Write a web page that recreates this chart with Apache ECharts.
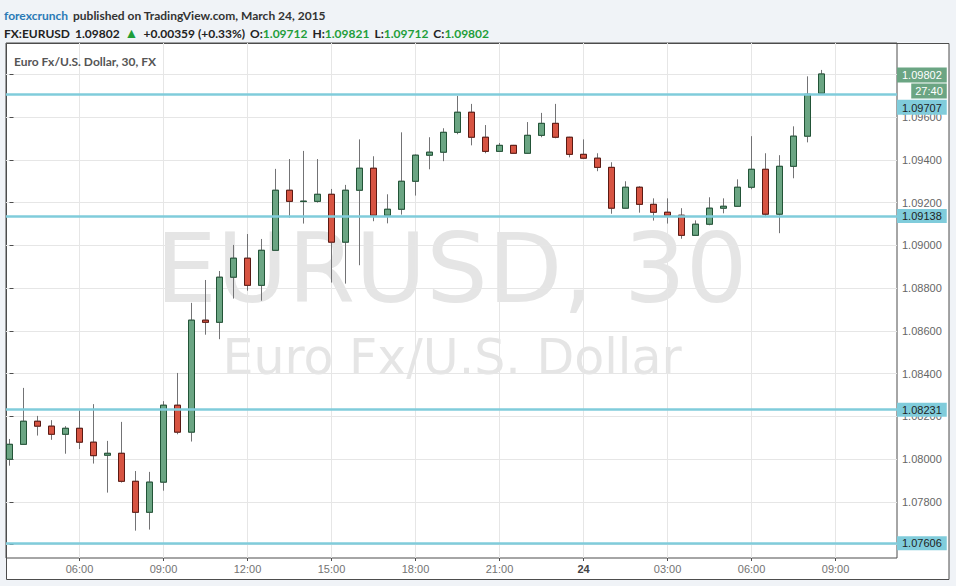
<!DOCTYPE html>
<html><head><meta charset="utf-8">
<script src="https://cdn.jsdelivr.net/npm/echarts@6/dist/echarts.min.js"></script>
<style>html,body{margin:0;padding:0;background:#f0f3f7;}#c{width:956px;height:586px;}</style>
</head><body><div id="c"></div>
<script>
// ---- data (EUR/USD 30-min candles, 23 Mar 03:30 -> 24 Mar 08:30) ----
const opens = [1.07999,1.08069,1.08177,1.08154,1.08116,1.08144,1.08079,1.08018,1.08027,1.07896,
  1.07751,1.07892,1.08252,1.08126,1.08650,1.08640,1.08851,1.08940,1.08813,1.08977,
  1.09258,1.09205,1.09206,1.09239,1.09015,1.09258,1.09361,1.09141,1.09169,1.09300,
  1.09422,1.09436,1.09529,1.09623,1.09506,1.09440,1.09468,1.09431,1.09515,1.09571,
  1.09506,1.09426,1.09408,1.09365,1.09174,1.09272,1.09192,1.09155,1.09141,1.09047,
  1.09099,1.09174,1.09183,1.09272,1.09356,1.09146,1.09370,1.09511,1.09712];
const closes = [1.08069,1.08177,1.08154,1.08116,1.08144,1.08079,1.08016,1.08027,1.07896,1.07751,
  1.07892,1.08252,1.08126,1.08650,1.08640,1.08851,1.08940,1.08813,1.08977,1.09258,
  1.09206,1.09207,1.09239,1.09015,1.09258,1.09361,1.09141,1.09169,1.09300,1.09422,
  1.09436,1.09529,1.09623,1.09506,1.09440,1.09468,1.09431,1.09515,1.09571,1.09506,
  1.09426,1.09408,1.09365,1.09174,1.09272,1.09192,1.09155,1.09141,1.09047,1.09099,
  1.09174,1.09183,1.09272,1.09356,1.09146,1.09370,1.09511,1.09707,1.09802];
const lows = [1.07969,1.08069,1.08110,1.08090,1.08025,1.08047,1.07979,1.07843,1.07890,1.07665,
  1.07670,1.07852,1.08116,1.08082,1.08582,1.08561,1.08751,1.08788,1.08741,1.08977,
  1.09130,1.09102,1.09200,1.08826,1.08821,1.08907,1.09113,1.09103,1.09144,1.09233,
  1.09356,1.09394,1.09520,1.09468,1.09431,1.09440,1.09429,1.09429,1.09506,1.09501,
  1.09412,1.09405,1.09347,1.09148,1.09172,1.09153,1.09116,1.09102,1.09031,1.09045,
  1.09094,1.09150,1.09181,1.09263,1.09132,1.09057,1.09314,1.09482,1.09712];
const highs = [1.08094,1.08333,1.08202,1.08182,1.08154,1.08228,1.08257,1.08085,1.08174,1.07944,
  1.07940,1.08271,1.08403,1.08731,1.08838,1.08880,1.09002,1.09053,1.09030,1.09358,
  1.09404,1.09442,1.09404,1.09264,1.09283,1.09496,1.09417,1.09239,1.09529,1.09426,
  1.09506,1.09548,1.09700,1.09662,1.09563,1.09479,1.09470,1.09577,1.09620,1.09662,
  1.09508,1.09496,1.09431,1.09389,1.09300,1.09277,1.09220,1.09220,1.09174,1.09117,
  1.09225,1.09220,1.09309,1.09511,1.09431,1.09422,1.09557,1.09791,1.09821];
const xTickIndex = [5,11,17,23,29,35,41,47,53,59];
const xTickLabels = ['06:00','09:00','12:00','15:00','18:00','21:00','24','03:00','06:00','09:00'];
const yTickValues = [1.076,1.078,1.080,1.082,1.084,1.086,1.088,1.090,1.092,1.094,1.096,1.098];
const levelValues = [1.09707,1.09138,1.08231,1.07606];
const lastPrice = 1.09802;
const countdown = '27:40';
const changeText = '+0.00359 (+0.33%)';

// ---- chart ----
const chart = echarts.init(document.getElementById('c'), null, {renderer:'svg', width:956, height:586});
const idx = opens.map((_, i) => i);
const candleData = idx.map(i => [i, opens[i], closes[i], lows[i], highs[i]]);
const bodyData = idx.map(i => [i, opens[i], closes[i], Math.min(opens[i], closes[i]), Math.max(opens[i], closes[i])]);
const n = opens.length - 1;
const fmt = v => Number(v).toFixed(5);
const FONT = 'Liberation Sans, Arial, sans-serif';
const HF = 'Lato, "Open Sans", sans-serif';

const tagRich = {
  s: {lineHeight: 26, fontSize: 1, height: 26},
  v: {backgroundColor:'#80ccdb', color:'#1e1e1e', fontSize:11, fontFamily:FONT, lineHeight:15, height:12, padding:[2,5,1,5]}
};
const lastRich = {
  s: {lineHeight: 18, fontSize: 1, height: 18},
  v: {backgroundColor:'#6ba583', color:'#ffffff', fontSize:11, fontFamily:FONT, lineHeight:15, height:12, padding:[2,5,1,5]},
  g: {lineHeight: 1, fontSize: 1, height: 1},
  t: {backgroundColor:'#6ba583', color:'#ffffff', fontSize:11, fontFamily:FONT, lineHeight:15, height:12, padding:[2,4,1,4], align:'right'}
};

const option = {
  backgroundColor: '#f0f3f7',
  animation: false,
  textStyle: {fontFamily: FONT},
  title: [
    {left:4, top:6, padding:0,
     text:'{b|forexcrunch} {n|published on TradingView.com, March 24, 2015}',
     textStyle:{rich:{b:{fontFamily:HF, fontWeight:'bold', fontSize:12, color:'#2a7ab6'}, n:{fontFamily:HF, fontSize:12, color:'#333333'}}}},
    {left:4, top:24, padding:0,
     text:'{k|FX:EURUSD} {n|' + fmt(closes[n]) + '} {g|▲} {n|' + changeText + '} {k|O:}{v|' + fmt(opens[n]) + '} {k|H:}{v|' + fmt(highs[n]) + '} {k|L:}{v|' + fmt(lows[n]) + '} {k|C:}{v|' + fmt(closes[n]) + '}',
     textStyle:{rich:{k:{fontFamily:HF, fontWeight:'bold', fontSize:12, color:'#222'}, n:{fontFamily:HF, fontSize:12, color:'#222'}, g:{fontSize:14, color:'#1f9e3a'}, v:{fontFamily:HF, fontSize:12, color:'#1f9e3a'}}}},
    {left:14, top:55, padding:0, text:'Euro Fx/U.S. Dollar, 30, FX',
     textStyle:{fontFamily:HF, fontWeight:'bold', fontSize:12, color:'#555555'}}
  ],
  graphic: [
    {type:'rect', z:-100, silent:true, shape:{x:6.5, y:43.5, width:942.5, height:536}, style:{fill:'#ffffff', stroke:'#4d4d4d', lineWidth:1}},
    {type:'text', z:-50, silent:true, x:451.5, y:268, style:{text:'EURUSD, 30', font:'97px "DejaVu Sans"', fill:'#e5e5e5', align:'center', verticalAlign:'middle'}},
    {type:'text', z:-50, silent:true, x:452, y:357, style:{text:'Euro Fx/U.S. Dollar', font:'49px "DejaVu Sans"', fill:'#e5e5e5', align:'center', verticalAlign:'middle'}}
  ],
  grid: {left:6, top:43, right:59, bottom:28, show:true, borderColor:'#4d4d4d', borderWidth:1, backgroundColor:'transparent'},
  xAxis: {
    type:'value', min:-0.25, max:63.39,
    axisLine:{show:false},
    axisTick:{show:true, customValues:xTickIndex, length:3, lineStyle:{color:'#4d4d4d'}},
    axisLabel:{customValues:xTickIndex, color:'#737373', fontSize:11, margin:5,
      formatter: v => { const k = xTickIndex.indexOf(v); const t = k < 0 ? '' : xTickLabels[k]; return t === '24' ? '{b|24}' : t; },
      rich:{b:{fontWeight:'bold', color:'#444', fontSize:11}}},
    splitLine:{show:true, lineStyle:{color:'#e6e6e6', width:1}}
  },
  yAxis: {
    type:'value', position:'right', min:1.07537, max:1.09947, scale:true,
    axisLine:{show:false},
    axisTick:{show:true, customValues:yTickValues, length:4, lineStyle:{color:'#4d4d4d'}},
    axisLabel:{customValues:yTickValues, color:'#666666', fontSize:11, margin:5, formatter: v => fmt(v)},
    splitLine:{show:true, lineStyle:{color:'#e6e6e6', width:1}}
  },
  series: [
    {type:'candlestick', name:'wick', data:candleData, barWidth:7, silent:true, z:2,
     encode:{x:0, y:[1,2,3,4]},
     itemStyle:{color:'#6ba583', color0:'#d75442', borderColor:'#737375', borderColor0:'#737375', borderColorDoji:'#737375', borderWidth:1}},
    {type:'candlestick', name:'body', data:bodyData, barWidth:7, silent:true, z:3,
     encode:{x:0, y:[1,2,3,4]},
     itemStyle:{color:'#6ba583', color0:'#d75442', borderColor:'#225437', borderColor0:'#5b1a13', borderColorDoji:'#225437', borderWidth:1},
     markLine:{
       silent:true, symbol:['none','none'], animation:false, z:10, precision:5,
       lineStyle:{color:'#80ccdb', width:2.5, type:'solid'},
       label:{show:true, position:'end', distance:0, color:'#1e1e1e', fontSize:11, fontFamily:FONT,
              backgroundColor:'#80ccdb', padding:[2,5,1,5], formatter: p => fmt(p.value)},
       data:[
         {yAxis: levelValues[0], label:{backgroundColor:'transparent', padding:0, formatter: p => '{s| }\n{v|' + fmt(p.value) + '}', rich: tagRich}},
         {yAxis: levelValues[1]},
         {yAxis: levelValues[2]},
         {yAxis: levelValues[3]},
         {yAxis: lastPrice, lineStyle:{color:'rgba(0,0,0,0)', width:1}, label:{backgroundColor:'transparent', padding:0, formatter: p => '{s| }\n{v|' + fmt(p.value) + '}\n{g| }\n{t|' + countdown + '}', rich: lastRich}}
       ]
     }}
  ]
};
chart.setOption(option);
</script>
</body></html>
